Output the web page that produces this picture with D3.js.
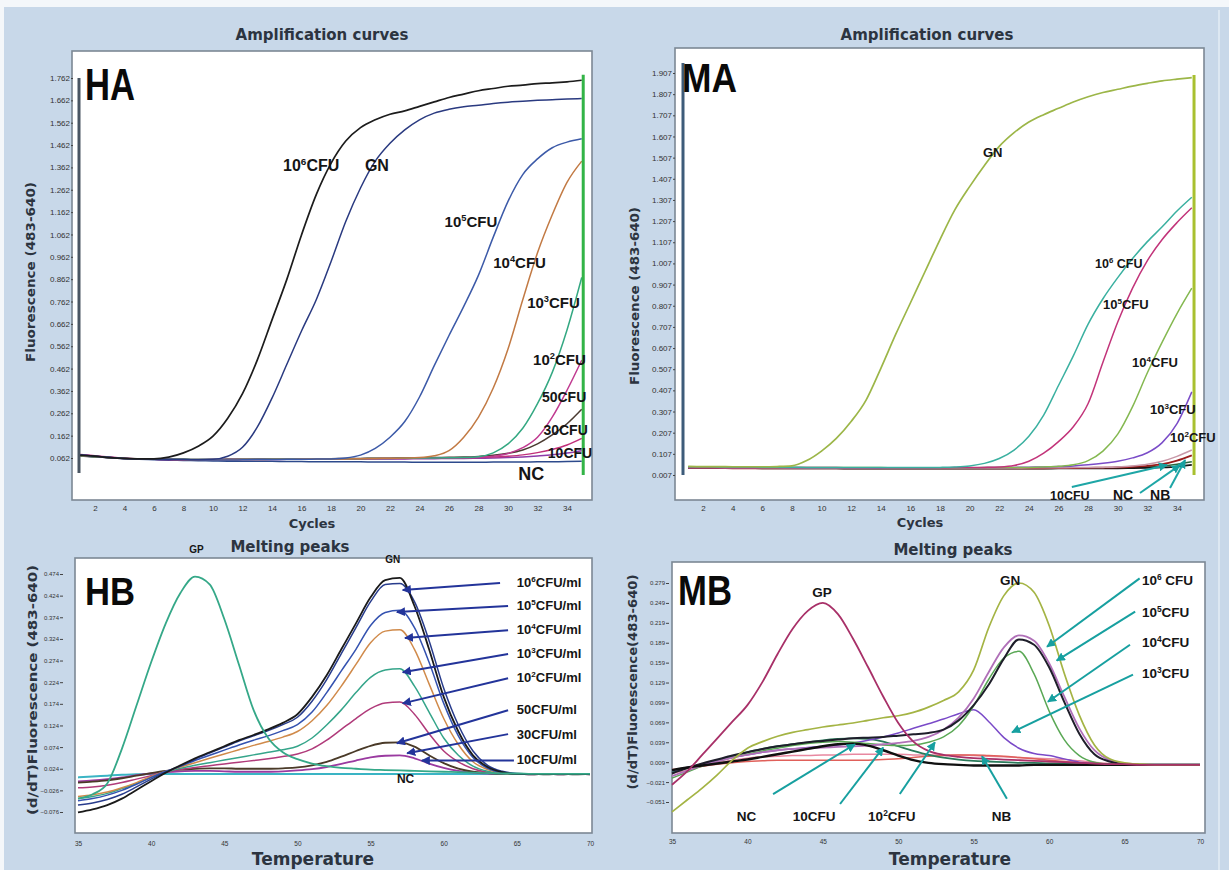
<!DOCTYPE html>
<html><head><meta charset="utf-8">
<script src="https://cdn.jsdelivr.net/npm/d3@7"></script>
<style>body{margin:0;background:#c8d8e9;overflow:hidden}</style>
</head><body>
<svg id="c" width="1229" height="870"></svg>
<script>
// ================= DATA =================
// ---- HA: amplification curves (cycles 1..35) ----
const haCycles = d3.range(1, 36);
const haXTicks = [2,4,6,8,10,12,14,16,18,20,22,24,26,28,30,32,34];
const haYTicks = [0.062,0.162,0.262,0.362,0.462,0.562,0.662,0.762,0.862,0.962,1.062,1.162,1.262,1.362,1.462,1.562,1.662,1.762];
const ha10e6 = [0.075,0.07,0.064,0.06,0.058,0.058,0.066,0.085,0.115,0.16,0.24,0.35,0.50,0.68,0.86,1.06,1.24,1.38,1.48,1.54,1.575,1.60,1.615,1.635,1.655,1.675,1.69,1.705,1.715,1.725,1.73,1.737,1.74,1.745,1.752];
const haGN   = [0.074,0.07,0.064,0.06,0.057,0.056,0.055,0.055,0.054,0.056,0.07,0.11,0.2,0.33,0.48,0.63,0.77,0.94,1.12,1.27,1.39,1.47,1.53,1.575,1.605,1.622,1.633,1.64,1.648,1.654,1.658,1.662,1.665,1.668,1.67];
const ha10e5 = [0.076,0.07,0.065,0.06,0.058,0.057,0.056,0.055,0.054,0.053,0.053,0.054,0.055,0.055,0.056,0.056,0.057,0.058,0.062,0.075,0.105,0.155,0.225,0.335,0.475,0.61,0.74,0.88,1.05,1.21,1.33,1.4,1.45,1.475,1.49];
const ha10e4 = [0.073,0.069,0.064,0.06,0.058,0.057,0.056,0.055,0.054,0.054,0.054,0.055,0.055,0.056,0.056,0.057,0.057,0.058,0.058,0.059,0.06,0.061,0.062,0.064,0.072,0.095,0.155,0.245,0.375,0.55,0.77,0.98,1.15,1.295,1.39];
const ha10e3 = [0.072,0.068,0.064,0.06,0.058,0.057,0.056,0.056,0.055,0.055,0.055,0.056,0.056,0.057,0.057,0.058,0.058,0.058,0.059,0.059,0.06,0.06,0.061,0.062,0.062,0.063,0.064,0.068,0.085,0.125,0.195,0.305,0.445,0.635,0.87];
const ha10e2 = [0.078,0.072,0.066,0.061,0.058,0.056,0.055,0.054,0.054,0.055,0.055,0.056,0.056,0.056,0.057,0.057,0.058,0.058,0.058,0.059,0.059,0.06,0.06,0.061,0.062,0.062,0.063,0.065,0.07,0.082,0.108,0.155,0.245,0.365,0.5];
const ha50   = [0.07,0.067,0.063,0.06,0.058,0.057,0.056,0.056,0.055,0.055,0.056,0.056,0.057,0.057,0.058,0.058,0.059,0.059,0.06,0.06,0.061,0.061,0.062,0.063,0.064,0.065,0.066,0.069,0.074,0.083,0.098,0.125,0.165,0.215,0.28];
const ha30   = [0.076,0.07,0.065,0.061,0.058,0.057,0.056,0.055,0.055,0.055,0.056,0.056,0.056,0.057,0.057,0.057,0.058,0.058,0.059,0.059,0.06,0.06,0.061,0.061,0.062,0.062,0.063,0.064,0.066,0.07,0.076,0.086,0.1,0.12,0.15];
const ha10   = [0.074,0.069,0.064,0.06,0.057,0.056,0.055,0.055,0.054,0.054,0.054,0.055,0.055,0.055,0.056,0.056,0.056,0.057,0.057,0.057,0.058,0.058,0.058,0.059,0.059,0.06,0.06,0.061,0.062,0.064,0.067,0.071,0.076,0.084,0.095];
const haNC   = [0.072,0.068,0.063,0.059,0.056,0.054,0.052,0.051,0.05,0.049,0.048,0.048,0.047,0.047,0.046,0.046,0.045,0.045,0.045,0.045,0.044,0.044,0.044,0.043,0.043,0.043,0.043,0.043,0.044,0.044,0.044,0.045,0.045,0.046,0.048];
const haLabelText  = [["10","6","CFU"],["GN"],["10","5","CFU"],["10","4","CFU"],["10","3","CFU"],["10","2","CFU"],["50CFU"],["30CFU"],["10CFU"],["NC"]];
const haLabelCycle = [14.75,20.3,25.7,29.0,31.3,31.7,32.3,32.4,32.7,30.7];
const haLabelValue = [1.346,1.346,1.096,0.912,0.733,0.478,0.313,0.165,0.062,-0.036];
const haLabelSize  = [16,16,15,15,15,15,14,14,14,18];
const haEndCycle = 35.1;

// ---- MA: amplification curves (cycles 1..35) ----
const maCycles = d3.range(1, 36);
const maXTicks = [2,4,6,8,10,12,14,16,18,20,22,24,26,28,30,32,34];
const maYTicks = [0.007,0.107,0.207,0.307,0.407,0.507,0.607,0.707,0.807,0.907,1.007,1.107,1.207,1.307,1.407,1.507,1.607,1.707,1.807,1.907];
const maGN   = [0.048,0.047,0.047,0.046,0.046,0.046,0.047,0.05,0.075,0.12,0.18,0.26,0.36,0.51,0.67,0.82,0.97,1.12,1.26,1.37,1.47,1.56,1.625,1.675,1.71,1.74,1.77,1.795,1.815,1.83,1.845,1.858,1.87,1.878,1.885];
const ma10e6 = [0.046,0.046,0.045,0.045,0.045,0.044,0.044,0.044,0.043,0.043,0.043,0.043,0.042,0.042,0.042,0.042,0.042,0.043,0.045,0.05,0.062,0.085,0.125,0.19,0.29,0.43,0.57,0.72,0.84,0.94,1.03,1.11,1.18,1.255,1.32];
const ma10e5 = [0.044,0.044,0.043,0.043,0.043,0.043,0.042,0.042,0.042,0.042,0.042,0.041,0.041,0.041,0.041,0.041,0.041,0.041,0.042,0.042,0.043,0.045,0.052,0.072,0.11,0.165,0.235,0.345,0.54,0.73,0.89,1.02,1.12,1.2,1.27];
const ma10e4 = [0.045,0.045,0.044,0.044,0.044,0.043,0.043,0.043,0.043,0.042,0.042,0.042,0.042,0.042,0.041,0.041,0.041,0.041,0.041,0.041,0.042,0.042,0.043,0.043,0.045,0.048,0.055,0.075,0.12,0.2,0.33,0.49,0.635,0.77,0.89];
const ma10e3 = [0.043,0.043,0.043,0.042,0.042,0.042,0.042,0.041,0.041,0.041,0.041,0.041,0.041,0.04,0.04,0.04,0.04,0.041,0.041,0.041,0.042,0.043,0.043,0.044,0.045,0.047,0.05,0.055,0.062,0.072,0.088,0.112,0.16,0.25,0.40];
const ma10e2 = [0.042,0.042,0.042,0.041,0.041,0.041,0.041,0.04,0.04,0.04,0.04,0.04,0.04,0.04,0.04,0.04,0.04,0.04,0.04,0.04,0.04,0.04,0.04,0.041,0.041,0.041,0.042,0.042,0.043,0.045,0.05,0.058,0.072,0.095,0.125];
const ma10   = [0.04,0.04,0.04,0.039,0.039,0.039,0.039,0.039,0.038,0.038,0.038,0.038,0.038,0.038,0.038,0.038,0.038,0.038,0.038,0.038,0.038,0.038,0.039,0.039,0.039,0.04,0.04,0.041,0.042,0.043,0.046,0.05,0.058,0.075,0.1];
const maNC   = [0.041,0.041,0.04,0.04,0.04,0.039,0.039,0.039,0.038,0.038,0.038,0.037,0.037,0.037,0.037,0.037,0.037,0.037,0.037,0.037,0.037,0.037,0.037,0.037,0.037,0.038,0.038,0.038,0.039,0.039,0.04,0.041,0.043,0.047,0.055];
const maNB   = [0.043,0.042,0.042,0.041,0.041,0.041,0.04,0.04,0.04,0.04,0.04,0.039,0.039,0.039,0.039,0.039,0.039,0.039,0.039,0.039,0.039,0.039,0.039,0.04,0.04,0.04,0.04,0.041,0.041,0.042,0.043,0.046,0.05,0.058,0.07];
const maLabelText  = [["GN"],["10","6","\u00a0CFU"],["10","5","CFU"],["10","4","CFU"],["10","3","CFU"],["10","2","CFU"],["10CFU"],["NC"],["NB"]];
const maLabelCycle = [20.9,28.47,29.0,30.97,32.18,33.53,25.43,29.68,32.18];
const maLabelValue = [1.51,0.985,0.791,0.517,0.295,0.163,-0.111,-0.111,-0.111];
const maLabelSize  = [13,12.5,13,13,13,13,12.5,14,14];
const maPtrFromC = [26.9,31.5,33.53], maPtrFromV = [-0.050,-0.078,-0.054];
const maPtrToC   = [33.33,34.2,34.55], maPtrToV   = [0.054,0.054,0.078];
const maEndCycle = 35.15;

// ---- HB: melting peaks (35..70 C) ----
const hbTemps = d3.range(35, 71);
const hbXTicks = [35,40,45,50,55,60,65,70];
const hbYTicks = [-0.076,-0.026,0.024,0.074,0.124,0.174,0.224,0.274,0.324,0.374,0.424,0.474];
const hbGP   = [-0.045,-0.035,-0.01,0.07,0.17,0.27,0.36,0.43,0.468,0.45,0.37,0.265,0.16,0.095,0.062,0.046,0.036,0.03,0.026,0.024,0.022,0.021,0.02,0.019,0.018,0.017,0.016,0.015,0.014,0.013,0.013,0.012,0.012,0.012,0.012,0.012];
const hb10e6 = [-0.077,-0.07,-0.06,-0.045,-0.025,-0.005,0.015,0.032,0.048,0.062,0.076,0.09,0.102,0.115,0.13,0.15,0.19,0.24,0.30,0.36,0.42,0.46,0.465,0.40,0.30,0.19,0.11,0.055,0.028,0.016,0.012,0.012,0.011,0.012,0.011,0.012];
const hb10e5 = [-0.06,-0.055,-0.047,-0.035,-0.018,0.0,0.016,0.03,0.046,0.06,0.074,0.088,0.1,0.112,0.126,0.143,0.18,0.23,0.29,0.35,0.41,0.45,0.452,0.41,0.32,0.21,0.125,0.065,0.032,0.018,0.013,0.012,0.012,0.011,0.012,0.011];
const hb10e4 = [-0.05,-0.045,-0.037,-0.026,-0.012,0.004,0.018,0.03,0.043,0.055,0.067,0.079,0.09,0.1,0.112,0.126,0.155,0.2,0.25,0.3,0.355,0.385,0.39,0.35,0.27,0.175,0.1,0.05,0.025,0.015,0.012,0.011,0.012,0.011,0.011,0.012];
const hb10e3 = [-0.04,-0.036,-0.03,-0.02,-0.008,0.006,0.018,0.028,0.038,0.048,0.058,0.068,0.078,0.087,0.097,0.11,0.135,0.17,0.215,0.265,0.315,0.342,0.345,0.3,0.22,0.14,0.08,0.04,0.022,0.014,0.012,0.012,0.011,0.012,0.011,0.012];
const hb10e2 = [-0.045,-0.04,-0.033,-0.022,-0.01,0.004,0.016,0.025,0.032,0.038,0.044,0.05,0.056,0.062,0.068,0.076,0.095,0.125,0.16,0.2,0.235,0.252,0.255,0.215,0.155,0.095,0.055,0.03,0.018,0.013,0.012,0.011,0.012,0.011,0.012,0.011];
const hb50   = [-0.02,-0.018,-0.014,-0.008,0.0,0.008,0.016,0.022,0.027,0.031,0.035,0.039,0.043,0.047,0.052,0.058,0.07,0.09,0.115,0.14,0.163,0.176,0.178,0.15,0.105,0.065,0.04,0.024,0.016,0.013,0.012,0.012,0.011,0.012,0.011,0.012];
const hb30   = [-0.008,-0.006,-0.003,0.002,0.008,0.014,0.019,0.022,0.024,0.025,0.025,0.024,0.024,0.024,0.025,0.027,0.032,0.04,0.052,0.065,0.077,0.084,0.085,0.075,0.055,0.037,0.024,0.017,0.014,0.012,0.012,0.011,0.012,0.011,0.012,0.011];
const hb10   = [-0.005,-0.003,0.0,0.004,0.009,0.013,0.016,0.018,0.019,0.019,0.018,0.017,0.017,0.017,0.018,0.02,0.023,0.028,0.035,0.043,0.05,0.054,0.055,0.048,0.036,0.026,0.019,0.015,0.013,0.012,0.012,0.011,0.012,0.011,0.012,0.011];
const hbNC   = [0.004,0.006,0.008,0.01,0.011,0.012,0.012,0.012,0.012,0.012,0.012,0.012,0.012,0.012,0.012,0.012,0.012,0.012,0.012,0.012,0.012,0.012,0.012,0.012,0.012,0.012,0.012,0.012,0.012,0.012,0.012,0.012,0.012,0.012,0.012,0.012];
const hbLabelText = [["10","6","CFU/ml"],["10","5","CFU/ml"],["10","4","CFU/ml"],["10","3","CFU/ml"],["10","2","CFU/ml"],["50CFU/ml"],["30CFU/ml"],["10CFU/ml"]];
const hbLabelT = [65,65,65,65,65,65,65,65];
const hbLabelV = [0.444,0.391,0.335,0.280,0.224,0.150,0.092,0.036];
const hbArrowFromT = [63.85,64.4,64.4,64.4,64.4,64.4,64.4,64.8];
const hbArrowFromV = [0.453,0.400,0.344,0.289,0.233,0.159,0.104,0.043];
const hbArrowToT   = [57.2,56.8,57.35,57.2,57.2,56.8,57.5,58.5];
const hbArrowToV   = [0.437,0.386,0.326,0.247,0.175,0.083,0.060,0.043];

// ---- MB: melting peaks (35..70 C) ----
const mbTemps = d3.range(35, 71);
const mbXTicks = [35,40,45,50,55,60,65,70];
const mbYTicks = [-0.051,-0.021,0.009,0.039,0.069,0.099,0.129,0.159,0.189,0.219,0.249,0.279];
const mbGP   = [-0.025,-0.005,0.02,0.045,0.07,0.095,0.13,0.172,0.21,0.237,0.249,0.232,0.195,0.152,0.108,0.068,0.04,0.026,0.02,0.017,0.015,0.014,0.013,0.012,0.011,0.01,0.009,0.008,0.007,0.006,0.006,0.005,0.005,0.005,0.005,0.005];
const mbGN   = [-0.066,-0.048,-0.03,-0.01,0.012,0.03,0.04,0.048,0.054,0.058,0.062,0.065,0.068,0.072,0.076,0.079,0.084,0.092,0.102,0.115,0.148,0.212,0.26,0.279,0.265,0.215,0.143,0.08,0.035,0.014,0.008,0.006,0.005,0.005,0.005,0.005];
const mb10e6 = [-0.012,-0.004,0.004,0.01,0.016,0.02,0.024,0.027,0.029,0.03,0.031,0.032,0.033,0.034,0.036,0.038,0.041,0.047,0.058,0.076,0.105,0.145,0.182,0.2,0.192,0.158,0.108,0.06,0.027,0.012,0.007,0.005,0.005,0.005,0.005,0.005];
const mb10e5 = [-0.008,0.0,0.007,0.013,0.019,0.024,0.029,0.033,0.036,0.039,0.041,0.043,0.045,0.046,0.047,0.049,0.051,0.053,0.058,0.072,0.095,0.126,0.165,0.194,0.186,0.152,0.1,0.052,0.021,0.01,0.006,0.005,0.005,0.005,0.005,0.005];
const mb10e4 = [-0.015,-0.006,0.003,0.01,0.016,0.021,0.026,0.03,0.034,0.037,0.039,0.04,0.039,0.037,0.035,0.034,0.035,0.039,0.047,0.064,0.094,0.134,0.166,0.176,0.142,0.086,0.043,0.019,0.009,0.006,0.005,0.005,0.005,0.005,0.005,0.005];
const mb10e3 = [-0.004,0.001,0.006,0.011,0.016,0.02,0.024,0.027,0.029,0.031,0.033,0.035,0.038,0.042,0.047,0.053,0.06,0.067,0.074,0.082,0.088,0.07,0.046,0.03,0.022,0.019,0.014,0.009,0.007,0.006,0.005,0.005,0.005,0.005,0.005,0.005];
const mb10e2 = [-0.002,0.0,0.003,0.006,0.008,0.01,0.011,0.012,0.012,0.012,0.012,0.012,0.012,0.012,0.013,0.014,0.016,0.018,0.019,0.02,0.02,0.019,0.018,0.016,0.014,0.012,0.01,0.008,0.007,0.006,0.005,0.005,0.005,0.005,0.005,0.005];
const mb10   = [-0.006,0.0,0.006,0.012,0.018,0.024,0.029,0.033,0.036,0.039,0.042,0.044,0.045,0.044,0.04,0.033,0.026,0.02,0.016,0.013,0.011,0.01,0.009,0.008,0.008,0.007,0.007,0.006,0.006,0.005,0.005,0.005,0.005,0.005,0.005,0.005];
const mbNC   = [-0.003,0.001,0.004,0.007,0.01,0.013,0.017,0.021,0.025,0.029,0.033,0.036,0.037,0.034,0.027,0.019,0.012,0.008,0.006,0.005,0.004,0.004,0.004,0.004,0.005,0.005,0.005,0.005,0.005,0.005,0.005,0.005,0.005,0.005,0.005,0.005];
const mbNB   = [-0.008,-0.003,0.003,0.008,0.012,0.015,0.017,0.018,0.019,0.019,0.02,0.02,0.021,0.021,0.021,0.021,0.02,0.02,0.02,0.02,0.019,0.018,0.017,0.016,0.015,0.014,0.013,0.011,0.009,0.007,0.006,0.005,0.005,0.005,0.005,0.005];
const mbLabelText = [["GP"],["GN"],["10","6","\u00a0CFU"],["10","5","CFU"],["10","4","CFU"],["10","3","CFU"],["NC"],["10CFU"],["10","2","CFU"],["NB"]];
const mbLabelT = [44.3,56.74,66.15,66.15,66.15,66.15,39.3,43.0,48.0,56.2];
const mbLabelV = [0.258,0.276,0.276,0.228,0.182,0.136,-0.0795,-0.0795,-0.0795,-0.0795];
const mbArrowFromT = [66.0,65.7,65.36,65.56,41.7,46.14,50.1,57.2];
const mbArrowFromV = [0.286,0.236,0.186,0.141,-0.039,-0.054,-0.039,-0.046];
const mbArrowToT   = [59.86,60.5,59.92,57.54,47.13,49.0,52.43,55.55];
const mbArrowToV   = [0.183,0.162,0.100,0.054,0.036,0.031,0.039,0.018];

// ================= DRAWING =================
const svg = d3.select("#c");
svg.append("rect").attr("width",1229).attr("height",870).attr("fill","#c8d8e9");
svg.append("rect").attr("x",0).attr("y",0).attr("width",1229).attr("height",7).attr("fill","#f4f7fa");
svg.append("rect").attr("x",0).attr("y",0).attr("width",4).attr("height",870).attr("fill","#f4f7fa");
svg.append("line").attr("x1",1219).attr("x2",1219).attr("y1",10).attr("y2",870).attr("stroke","#dde8f2").attr("stroke-width",2);

const defs = svg.append("defs");
function marker(id, color){
  defs.append("marker").attr("id",id).attr("viewBox","0 0 10 10").attr("refX",9).attr("refY",5)
    .attr("markerWidth",4.5).attr("markerHeight",4.5).attr("orient","auto")
    .append("path").attr("d","M0,0L10,5L0,10z").attr("fill",color);
}
marker("arrNavy","#23349a");
marker("arrTeal","#17a0a0");

const TITLE_FONT = "DejaVu Sans, Verdana, sans-serif";
const LBL_FONT = "Liberation Sans, Arial, sans-serif";

function box(x0,y0,x1,y1){
  svg.append("rect").attr("x",x0).attr("y",y0).attr("width",x1-x0).attr("height",y1-y0)
    .attr("fill","#ffffff").attr("stroke","#7c8894").attr("stroke-width",1.6);
}
function title(x,y,txt,size){
  svg.append("text").attr("x",x).attr("y",y).attr("text-anchor","middle")
    .attr("font-family",TITLE_FONT).attr("font-weight","bold").attr("font-size",size)
    .attr("fill","#2c3440").text(txt);
}
function ytitle(x,y,txt,size,len){
  svg.append("text").attr("transform",`translate(${x},${y}) rotate(-90)`).attr("text-anchor","middle")
    .attr("font-family",TITLE_FONT).attr("font-weight","bold").attr("font-size",size)
    .attr("textLength",len).attr("lengthAdjust","spacingAndGlyphs")
    .attr("fill","#2c3440").text(txt);
}
function bigLabel(x,y,txt,size,len){
  svg.append("text").attr("x",x).attr("y",y).attr("font-family",LBL_FONT).attr("font-weight","bold")
    .attr("font-size",size).attr("textLength",len).attr("lengthAdjust","spacingAndGlyphs")
    .attr("fill","#0a0a0a").text(txt);
}
function label(px,py,parts,size){
  const t = svg.append("text").attr("x",px).attr("y",py).attr("font-family",LBL_FONT)
    .attr("font-weight","bold").attr("font-size",size).attr("fill","#151515");
  t.append("tspan").text(parts[0]);
  if (parts.length > 1){
    t.append("tspan").attr("font-size",size*0.62).attr("dy",-size*0.38).text(parts[1]);
    t.append("tspan").attr("dy",size*0.38).text(parts[2]);
  }
}
function styleAxis(g,size){
  g.select(".domain").remove();
  g.selectAll("text").attr("font-family",LBL_FONT).attr("font-size",size).attr("fill","#333");
  g.selectAll("line").attr("stroke","#444");
}
function drawSeries(x,y,xs,series){
  series.forEach(s=>{
    const line = d3.line().x((d,i)=>x(xs[i])).y(d=>y(d)).curve(d3.curveMonotoneX);
    svg.append("path").datum(s.v).attr("d",line).attr("fill","none")
      .attr("stroke",s.c).attr("stroke-width",s.w||1.5).attr("stroke-linejoin","round");
  });
}

// ---------- HA ----------
{
  const x = d3.scaleLinear().domain([2,34]).range([95,567]);
  const y = d3.scaleLinear().domain([0.062,1.762]).range([458,78]);
  box(72,51,592,500);
  title(322,40,"Amplification curves",15);
  const ya = svg.append("g").attr("transform","translate(73,0)")
    .call(d3.axisLeft(y).tickValues(haYTicks).tickSize(2).tickPadding(1).tickFormat(d3.format(".3f")));
  styleAxis(ya,8);
  const xa = svg.append("g").attr("transform","translate(0,500)")
    .call(d3.axisBottom(x).tickValues(haXTicks).tickSize(0).tickPadding(5));
  styleAxis(xa,8);
  svg.append("line").attr("x1",79).attr("x2",79).attr("y1",y(1.762)).attr("y2",y(-0.005))
    .attr("stroke","#4a5663").attr("stroke-width",3);
  drawSeries(x,y,haCycles,[
    {v:haNC,c:"#2d4a8c"},{v:ha10,c:"#8e3aa8"},{v:ha30,c:"#c0307a"},{v:ha50,c:"#4a3a30"},
    {v:ha10e2,c:"#c03a90"},{v:ha10e3,c:"#34a882"},{v:ha10e4,c:"#c27a44"},
    {v:ha10e5,c:"#3c5aa8"},{v:haGN,c:"#2a3a80"},{v:ha10e6,c:"#1c1c1c",w:1.7}
  ]);
  svg.append("line").attr("x1",x(haEndCycle)).attr("x2",x(haEndCycle)).attr("y1",y(1.776)).attr("y2",y(-0.014))
    .attr("stroke","#33b447").attr("stroke-width",3);
  haLabelText.forEach((t,i)=>label(x(haLabelCycle[i]),y(haLabelValue[i]),t,haLabelSize[i]));
  title(312,528,"Cycles",13);
  ytitle(35,272,"Fluorescence (483-640)",12,180);
  bigLabel(85,100,"HA",44,50);
}

// ---------- MA ----------
{
  const x = d3.scaleLinear().domain([2,34]).range([703,1177]);
  const y = d3.scaleLinear().domain([0.007,1.907]).range([475,73]);
  box(675,48,1204,500);
  title(927,40,"Amplification curves",15);
  const ya = svg.append("g").attr("transform","translate(675,0)")
    .call(d3.axisLeft(y).tickValues(maYTicks).tickSize(2).tickPadding(1).tickFormat(d3.format(".3f")));
  styleAxis(ya,8);
  const xa = svg.append("g").attr("transform","translate(0,500)")
    .call(d3.axisBottom(x).tickValues(maXTicks).tickSize(0).tickPadding(5));
  styleAxis(xa,8);
  svg.append("line").attr("x1",683).attr("x2",683).attr("y1",y(1.954)).attr("y2",y(0.007))
    .attr("stroke","#3e5c7a").attr("stroke-width",3);
  drawSeries(x,y,maCycles,[
    {v:maNB,c:"#2a6a40"},{v:maNC,c:"#151515",w:1.8},{v:ma10,c:"#9a1c1c",w:1.8},{v:ma10e2,c:"#c898a8"},
    {v:ma10e3,c:"#7a4cc8"},{v:ma10e4,c:"#84b850"},{v:ma10e5,c:"#c2347a"},
    {v:ma10e6,c:"#3ab0a0"},{v:maGN,c:"#9cb648",w:1.7}
  ]);
  svg.append("line").attr("x1",x(maEndCycle)).attr("x2",x(maEndCycle)).attr("y1",y(1.897)).attr("y2",y(0.007))
    .attr("stroke","#a8c030").attr("stroke-width",3);
  maPtrFromC.forEach((c,i)=>{
    svg.append("line").attr("x1",x(c)).attr("y1",y(maPtrFromV[i])).attr("x2",x(maPtrToC[i])).attr("y2",y(maPtrToV[i]))
      .attr("stroke","#1ea6a6").attr("stroke-width",2).attr("marker-end","url(#arrTeal)");
  });
  maLabelText.forEach((t,i)=>label(x(maLabelCycle[i]),y(maLabelValue[i]),t,maLabelSize[i]));
  title(920,527,"Cycles",13);
  ytitle(639,296,"Fluorescence (483-640)",12,178);
  bigLabel(682,92,"MA",40,55);
}

// ---------- HB ----------
{
  const x = d3.scaleLinear().domain([35,70]).range([78,590]);
  const y = d3.scaleLinear().domain([-0.076,0.474]).range([812,574]);
  box(75,558,592,833);
  const ya = svg.append("g").attr("transform","translate(63,0)")
    .call(d3.axisLeft(y).tickValues(hbYTicks).tickSize(3).tickPadding(1).tickFormat(d3.format(".3f")));
  styleAxis(ya,6);
  const xa = svg.append("g").attr("transform","translate(0,833)")
    .call(d3.axisBottom(x).tickValues(hbXTicks).tickSize(0).tickPadding(8));
  styleAxis(xa,6.5);
  drawSeries(x,y,hbTemps,[
    {v:hbNC,c:"#3ab4c4",w:2},{v:hb10,c:"#9a3aa0",w:1.8},{v:hb30,c:"#4a3a28",w:1.8},{v:hb50,c:"#b03a7a"},
    {v:hb10e2,c:"#35a58a"},{v:hb10e3,c:"#d08a4a"},{v:hb10e4,c:"#3452b0"},
    {v:hb10e5,c:"#283c8c"},{v:hb10e6,c:"#1a1a1a",w:1.8},{v:hbGP,c:"#35a888",w:1.8}
  ]);
  hbArrowFromT.forEach((t,i)=>{
    svg.append("line").attr("x1",x(t)).attr("y1",y(hbArrowFromV[i])).attr("x2",x(hbArrowToT[i])).attr("y2",y(hbArrowToV[i]))
      .attr("stroke","#23349a").attr("stroke-width",2).attr("marker-end","url(#arrNavy)");
  });
  hbLabelText.forEach((t,i)=>label(x(hbLabelT[i]),y(hbLabelV[i]),t,13));
  label(x(56.8),y(-0.008),["NC"],12);
  label(x(42.6),y(0.523),["GP"],10);
  label(x(56.0),y(0.499),["GN"],10);
  title(290,552,"Melting peaks",15);
  title(313,865,"Temperature",17);
  ytitle(37,690,"(d/dT)Fluorescence (483-640)",12.5,250);
  bigLabel(85,605,"HB",38,50);
}

// ---------- MB ----------
{
  const x = d3.scaleLinear().domain([35,70]).range([672,1200]);
  const y = d3.scaleLinear().domain([-0.051,0.279]).range([802,583]);
  box(672,562,1205,833);
  const ya = svg.append("g").attr("transform","translate(669,0)")
    .call(d3.axisLeft(y).tickValues(mbYTicks).tickSize(3).tickPadding(1).tickFormat(d3.format(".3f")));
  styleAxis(ya,6);
  const xa = svg.append("g").attr("transform","translate(0,833)")
    .call(d3.axisBottom(x).tickValues(mbXTicks).tickSize(0).tickPadding(6));
  styleAxis(xa,6.5);
  drawSeries(x,y,mbTemps,[
    {v:mbNB,c:"#e888a0"},{v:mb10e2,c:"#e0605a"},{v:mb10,c:"#2a7a5a",w:1.8},
    {v:mb10e3,c:"#7a4ac8"},{v:mb10e4,c:"#5aa855"},{v:mb10e6,c:"#b070b8",w:1.8},
    {v:mb10e5,c:"#1e1e2a",w:2},{v:mbNC,c:"#101010",w:2.4},{v:mbGN,c:"#a4b444",w:1.7},{v:mbGP,c:"#a83068",w:1.8}
  ]);
  mbArrowFromT.forEach((t,i)=>{
    svg.append("line").attr("x1",x(t)).attr("y1",y(mbArrowFromV[i])).attr("x2",x(mbArrowToT[i])).attr("y2",y(mbArrowToV[i]))
      .attr("stroke","#17a0a0").attr("stroke-width",2).attr("marker-end","url(#arrTeal)");
  });
  mbLabelText.forEach((t,i)=>label(x(mbLabelT[i]),y(mbLabelV[i]),t,13.5));
  title(953,555,"Melting peaks",15);
  title(950,865,"Temperature",17);
  ytitle(637,682,"(d/dT)Fluorescence(483-640)",12,215);
  bigLabel(678,605,"MB",42,54);
}
</script>
</body></html>
